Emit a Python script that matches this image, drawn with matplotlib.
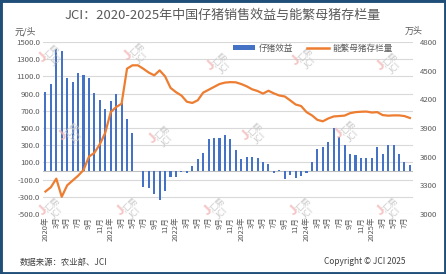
import matplotlib
matplotlib.use("Agg")
import matplotlib.pyplot as plt
from matplotlib.patches import Patch, Rectangle
from matplotlib.lines import Line2D
import numpy as np

plt.rcParams['font.family'] = ['Noto Sans CJK SC', 'DejaVu Sans']

# ---- data ----
years = [2020, 2021, 2022, 2023, 2024, 2025]
months = [(y, m) for y in years for m in range(1, 13)][:68]   # 2020-01 .. 2025-08

piglet_profit = [920, 1010, 1420, 1400, 1080, 1040, 1140, 1117, 1080, 912, 820, 726,
                 811, 900, 795, 605, 442, 0, -190, -200, -264, -340, -233, -74,
                 -70, -15, -27, 58, 136, 210, 376, 380, 388, 423, 376, 250,
                 136, 163, 163, 147, 101, 78, -22, 10, -89, -47, -85, -54,
                 -23, 101, 256, 279, 338, 500, 400, 303, 198, 186, 155, 147,
                 150, 275, 200, 299, 299, 195, 105, 66]

sow_inventory = [3235, 3280, 3370, 3180, 3300, 3350, 3400, 3460, 3600, 3640, 3730, 3850,
                 4066, 4119, 4154, 4521, 4556, 4556, 4520, 4480, 4451, 4503, 4440, 4320,
                 4275, 4240, 4175, 4162, 4190, 4270, 4300, 4330, 4360, 4375, 4380, 4378,
                 4360, 4336, 4305, 4287, 4260, 4290, 4262, 4240, 4230, 4189, 4146, 4130,
                 4066, 4032, 3985, 3970, 4000, 4021, 4025, 4030, 4055, 4066, 4070, 4072,
                 4062, 4066, 4035, 4029, 4032, 4032, 4025, 4005]

left_ticks = [1500, 1300, 1100, 900, 700, 500, 300, 100, -100, -300, -500]
right_ticks = [4800, 4500, 4200, 3900, 3600, 3300, 3000]

title = "JCI：2020-2025年中国仔猪销售效益与能繁母猪存栏量"
bar_name = "仔猪效益"
line_name = "能繁母猪存栏量"

# ---- styles ----
BLUE = "#4472C4"
ORANGE = "#ED7D31"
TXT = "#595959"
GRID = "#D9D9D9"

W, H = 446, 274
fig = plt.figure(figsize=(W / 100, H / 100), dpi=100)
fig.patch.set_facecolor("white")

ax = fig.add_axes([42.7 / W, 1 - 214 / H, (412.6 - 42.7) / W, (214 - 42) / H])
ax2 = ax.twinx()

x = np.arange(len(months))
ax.bar(x, piglet_profit, width=0.38, color=BLUE, zorder=3)
ax.set_ylim(-500, 1500)
ax.set_xlim(-0.5, len(months) - 0.5)
ax.set_yticks(left_ticks)
ax.set_yticklabels([f"{v:.1f}" for v in left_ticks])
ax.yaxis.grid(True, color=GRID, linewidth=0.8)
ax.set_axisbelow(True)
ax.axhline(0, color="#BFBFBF", linewidth=0.8, zorder=2)

ax2.plot(x, sow_inventory, color=ORANGE, linewidth=1.6, zorder=4)
ax2.set_ylim(3000, 4800)
ax2.set_yticks(right_ticks)
ax2.set_yticklabels([str(v) for v in right_ticks])

xt = [i for i in range(0, len(months), 2)]
xl = [f"{months[i][0]}年" if months[i][1] == 1 else f"{months[i][1]}月" for i in xt]
ax.set_xticks(xt)
ax.set_xticklabels(xl, rotation=90, fontsize=5.4, color=TXT)

for a in (ax, ax2):
    for s in a.spines.values():
        s.set_visible(False)
    a.tick_params(length=0)
ax.tick_params(axis='y', labelsize=5.6, labelcolor=TXT, pad=2)
ax2.tick_params(axis='y', labelsize=5.6, labelcolor=TXT, pad=5)
ax.tick_params(axis='x', pad=2)

# watermarks
wm_pos = [(52, 52), (137, 50), (220, 60), (305, 55), (390, 60),
          (72, 130), (162, 133), (255, 130), (348, 128),
          (52, 205), (130, 205), (217, 205), (303, 205), (390, 205)]
for (px, py) in wm_pos:
    fig.text(px / W, 1 - py / H, "汇易", rotation=45, fontsize=6.5, color="#C9C9C9",
             ha="center", va="center", alpha=0.9, zorder=0)
    fig.text((px + 5) / W, 1 - (py + 9) / H, "JCI", rotation=45, fontsize=6.5, color="#C9C9C9",
             ha="center", va="center", alpha=0.9, zorder=0)
    fig.text((px - 9) / W, 1 - (py + 5) / H, "J", rotation=45, fontsize=10, color="#F4B6B6",
             fontweight="bold", ha="center", va="center", alpha=0.8, zorder=0)

fig.text(0.5, 1 - 15 / H, title, ha="center", va="center", fontsize=9.4, color=TXT)
fig.text(15 / W, 1 - 32 / H, "元/头", ha="left", va="center", fontsize=6.5, color=TXT)
fig.text(405 / W, 1 - 31 / H, "万头", ha="left", va="center", fontsize=6.5, color=TXT)

handles = [Patch(facecolor=BLUE, edgecolor="none"), Line2D([0], [0], color=ORANGE, lw=1.8)]
fig.legend(handles, [bar_name, line_name], loc="center", bbox_to_anchor=(313 / W, 1 - 48 / H),
           ncol=2, frameon=False, fontsize=6.2, labelcolor=TXT, handlelength=2.6,
           handleheight=0.45, columnspacing=1.6, handletextpad=0.4)

fig.text(20 / W, 1 - 262 / H, "数据来源：农业部、JCI", ha="left", va="center", fontsize=6.0, color="#404040")
fig.text(405 / W, 1 - 262 / H, "Copyright © JCI 2025", ha="right", va="center", fontsize=6.0, color="#404040")

fig.patches.append(Rectangle((0, 0), 1, 1, transform=fig.transFigure, fill=False,
                             edgecolor="#1F4E79", linewidth=3.5))

fig.savefig("out.png", dpi=100)
